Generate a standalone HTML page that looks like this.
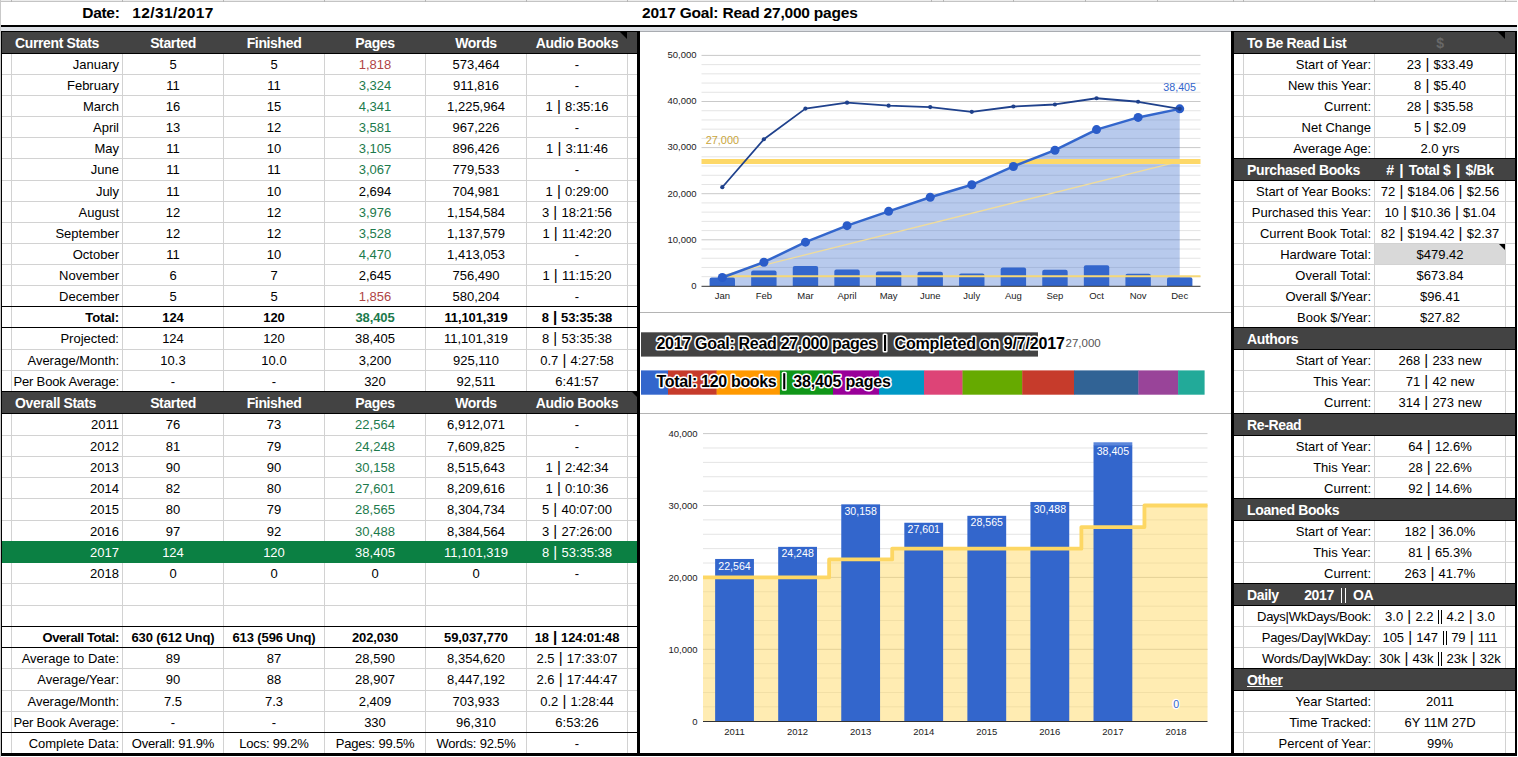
<!DOCTYPE html>
<html><head><meta charset="utf-8"><title>Reading Stats</title>
<style>
html,body{margin:0;padding:0;background:#fff;}
body{width:1518px;height:757px;overflow:hidden;position:relative;font-family:"Liberation Sans",sans-serif;font-size:13px;color:#000;}
#p{position:absolute;left:0;top:0;width:1518px;height:757px;overflow:hidden;}
#p div{position:absolute;box-sizing:border-box;}
.t{white-space:nowrap;overflow:visible;padding-top:1px;}
.l{text-align:left;padding-left:3px;}
.r{text-align:right;padding-right:3px;}
.c{text-align:center;}
.hd{color:#fff;font-weight:bold;font-size:14px;letter-spacing:-0.36px;}
.bb{font-weight:bold;letter-spacing:-0.12px;}
.b16{font-weight:bold;font-size:15.5px;color:#000;}
.bar{font-size:15px;line-height:0;position:relative;top:-0.5px;}
.hd .bar{font-size:15.5px;padding:0 1.6px;}
.dbar{display:inline-block;width:3.9px;height:14.5px;border-left:1.2px solid currentColor;border-right:1.2px solid currentColor;box-sizing:border-box;position:static !important;vertical-align:-3.2px;margin:0 4.6px;line-height:0;}
.hd .dbar{width:4.7px;height:15px;border-left-width:1.6px;border-right-width:1.6px;margin:0 7.2px;vertical-align:-3px;}
.n{letter-spacing:-0.2px;}
.tri{width:0;height:0;border-style:solid;border-width:0 5px 5px 0;border-color:transparent #000 transparent transparent;}
svg{position:absolute;left:0;top:0;}
svg text{font-family:"Liberation Sans",sans-serif;}
</style></head>
<body><div id="p">
<div style="left:0px;top:0px;width:1517px;height:1px;background:#ededed;"></div>
<div style="left:0px;top:1px;width:1517px;height:1px;background:#c4c4c4;"></div>
<div style="left:0px;top:0px;width:1px;height:757px;background:#c9c9c9;"></div>
<div style="left:11px;top:0px;width:1px;height:2px;background:#b5b5b5;"></div>
<div style="left:122px;top:0px;width:1px;height:2px;background:#b5b5b5;"></div>
<div style="left:223px;top:0px;width:1px;height:2px;background:#b5b5b5;"></div>
<div style="left:324px;top:0px;width:1px;height:2px;background:#b5b5b5;"></div>
<div style="left:425px;top:0px;width:1px;height:2px;background:#b5b5b5;"></div>
<div style="left:526px;top:0px;width:1px;height:2px;background:#b5b5b5;"></div>
<div style="left:627px;top:0px;width:1px;height:2px;background:#b5b5b5;"></div>
<div style="left:931px;top:0px;width:1px;height:2px;background:#b5b5b5;"></div>
<div style="left:943px;top:0px;width:1px;height:2px;background:#b5b5b5;"></div>
<div style="left:1013px;top:0px;width:1px;height:2px;background:#b5b5b5;"></div>
<div style="left:1085px;top:0px;width:1px;height:2px;background:#b5b5b5;"></div>
<div style="left:1157px;top:0px;width:1px;height:2px;background:#b5b5b5;"></div>
<div style="left:1233px;top:0px;width:1px;height:2px;background:#b5b5b5;"></div>
<div style="left:1243px;top:0px;width:1px;height:2px;background:#b5b5b5;"></div>
<div style="left:1374px;top:0px;width:1px;height:2px;background:#b5b5b5;"></div>
<div style="left:1505px;top:0px;width:1px;height:2px;background:#b5b5b5;"></div>
<div style="left:1px;top:25px;width:1516px;height:2px;background:#000;"></div>
<div style="left:1px;top:27px;width:1516px;height:4px;background:#dcdfe4;"></div>
<div style="left:640px;top:31px;width:591px;height:1px;background:#a9acb1;"></div>
<div class="t b16 r" style="left:22px;top:1px;width:100.5px;height:23px;line-height:23px;letter-spacing:-0.3px;padding-top:0">Date:</div>
<div class="t b16 c" style="left:122px;top:1px;width:102px;height:23px;line-height:23px;letter-spacing:0.4px;padding-top:0">12/31/2017</div>
<div class="t b16 l" style="left:639px;top:1px;width:300px;height:23px;line-height:23px;letter-spacing:-0.21px;padding-top:0">2017 Goal: Read 27,000 pages</div>
<div style="left:2px;top:53px;width:635px;height:1px;background:#d2d2d2;"></div>
<div style="left:2px;top:74px;width:635px;height:1px;background:#d2d2d2;"></div>
<div style="left:2px;top:95px;width:635px;height:1px;background:#d2d2d2;"></div>
<div style="left:2px;top:116px;width:635px;height:1px;background:#d2d2d2;"></div>
<div style="left:2px;top:137px;width:635px;height:1px;background:#d2d2d2;"></div>
<div style="left:2px;top:158px;width:635px;height:1px;background:#d2d2d2;"></div>
<div style="left:2px;top:180px;width:635px;height:1px;background:#d2d2d2;"></div>
<div style="left:2px;top:201px;width:635px;height:1px;background:#d2d2d2;"></div>
<div style="left:2px;top:222px;width:635px;height:1px;background:#d2d2d2;"></div>
<div style="left:2px;top:243px;width:635px;height:1px;background:#d2d2d2;"></div>
<div style="left:2px;top:264px;width:635px;height:1px;background:#d2d2d2;"></div>
<div style="left:2px;top:285px;width:635px;height:1px;background:#d2d2d2;"></div>
<div style="left:2px;top:306px;width:635px;height:1px;background:#d2d2d2;"></div>
<div style="left:2px;top:327px;width:635px;height:1px;background:#d2d2d2;"></div>
<div style="left:2px;top:349px;width:635px;height:1px;background:#d2d2d2;"></div>
<div style="left:2px;top:370px;width:635px;height:1px;background:#d2d2d2;"></div>
<div style="left:2px;top:391px;width:635px;height:1px;background:#d2d2d2;"></div>
<div style="left:2px;top:413px;width:635px;height:1px;background:#d2d2d2;"></div>
<div style="left:2px;top:435px;width:635px;height:1px;background:#d2d2d2;"></div>
<div style="left:2px;top:456px;width:635px;height:1px;background:#d2d2d2;"></div>
<div style="left:2px;top:477px;width:635px;height:1px;background:#d2d2d2;"></div>
<div style="left:2px;top:498px;width:635px;height:1px;background:#d2d2d2;"></div>
<div style="left:2px;top:520px;width:635px;height:1px;background:#d2d2d2;"></div>
<div style="left:2px;top:541px;width:635px;height:1px;background:#d2d2d2;"></div>
<div style="left:2px;top:562px;width:635px;height:1px;background:#d2d2d2;"></div>
<div style="left:2px;top:583px;width:635px;height:1px;background:#d2d2d2;"></div>
<div style="left:2px;top:605px;width:635px;height:1px;background:#d2d2d2;"></div>
<div style="left:2px;top:626px;width:635px;height:1px;background:#d2d2d2;"></div>
<div style="left:2px;top:647px;width:635px;height:1px;background:#d2d2d2;"></div>
<div style="left:2px;top:668px;width:635px;height:1px;background:#d2d2d2;"></div>
<div style="left:2px;top:690px;width:635px;height:1px;background:#d2d2d2;"></div>
<div style="left:2px;top:711px;width:635px;height:1px;background:#d2d2d2;"></div>
<div style="left:2px;top:732px;width:635px;height:1px;background:#d2d2d2;"></div>
<div style="left:11px;top:32px;width:1px;height:721px;background:#d2d2d2;"></div>
<div style="left:122px;top:32px;width:1px;height:721px;background:#d2d2d2;"></div>
<div style="left:223px;top:32px;width:1px;height:721px;background:#d2d2d2;"></div>
<div style="left:324px;top:32px;width:1px;height:721px;background:#d2d2d2;"></div>
<div style="left:425px;top:32px;width:1px;height:721px;background:#d2d2d2;"></div>
<div style="left:526px;top:32px;width:1px;height:721px;background:#d2d2d2;"></div>
<div style="left:627px;top:32px;width:1px;height:721px;background:#d2d2d2;"></div>
<div style="left:2px;top:31px;width:635px;height:1px;background:#000;"></div>
<div style="left:2px;top:32px;width:635px;height:21px;background:#434343;"></div>
<div style="left:2px;top:53px;width:635px;height:1px;background:#000;"></div>
<div class="tri" style="left:620px;top:32px;border-width:0 7px 7px 0"></div>
<div class="t hd l" style="left:12px;top:32px;width:110px;height:21px;line-height:21px;">Current Stats</div>
<div class="t hd c" style="left:123px;top:32px;width:100px;height:21px;line-height:21px;">Started</div>
<div class="t hd c" style="left:224px;top:32px;width:100px;height:21px;line-height:21px;">Finished</div>
<div class="t hd c" style="left:325px;top:32px;width:100px;height:21px;line-height:21px;">Pages</div>
<div class="t hd c" style="left:426px;top:32px;width:100px;height:21px;line-height:21px;">Words</div>
<div class="t hd c" style="left:527px;top:32px;width:100px;height:21px;line-height:21px;">Audio Books</div>
<div class="t r" style="left:12px;top:54px;width:110px;height:20px;line-height:20px;">January</div>
<div class="t c" style="left:123px;top:54px;width:100px;height:20px;line-height:20px;">5</div>
<div class="t c" style="left:224px;top:54px;width:100px;height:20px;line-height:20px;">5</div>
<div class="t c" style="left:325px;top:54px;width:100px;height:20px;line-height:20px;color:#b04545;">1,818</div>
<div class="t c" style="left:426px;top:54px;width:100px;height:20px;line-height:20px;">573,464</div>
<div class="t c" style="left:527px;top:54px;width:100px;height:20px;line-height:20px;">-</div>
<div class="t r" style="left:12px;top:75px;width:110px;height:20px;line-height:20px;">February</div>
<div class="t c" style="left:123px;top:75px;width:100px;height:20px;line-height:20px;">11</div>
<div class="t c" style="left:224px;top:75px;width:100px;height:20px;line-height:20px;">11</div>
<div class="t c" style="left:325px;top:75px;width:100px;height:20px;line-height:20px;color:#1c7a4c;">3,324</div>
<div class="t c" style="left:426px;top:75px;width:100px;height:20px;line-height:20px;">911,816</div>
<div class="t c" style="left:527px;top:75px;width:100px;height:20px;line-height:20px;">-</div>
<div class="t r" style="left:12px;top:96px;width:110px;height:20px;line-height:20px;">March</div>
<div class="t c" style="left:123px;top:96px;width:100px;height:20px;line-height:20px;">16</div>
<div class="t c" style="left:224px;top:96px;width:100px;height:20px;line-height:20px;">15</div>
<div class="t c" style="left:325px;top:96px;width:100px;height:20px;line-height:20px;color:#1c7a4c;">4,341</div>
<div class="t c" style="left:426px;top:96px;width:100px;height:20px;line-height:20px;">1,225,964</div>
<div class="t c" style="left:527px;top:96px;width:100px;height:20px;line-height:20px;">1<span class="bar"> | </span>8:35:16</div>
<div class="t r" style="left:12px;top:117px;width:110px;height:20px;line-height:20px;">April</div>
<div class="t c" style="left:123px;top:117px;width:100px;height:20px;line-height:20px;">13</div>
<div class="t c" style="left:224px;top:117px;width:100px;height:20px;line-height:20px;">12</div>
<div class="t c" style="left:325px;top:117px;width:100px;height:20px;line-height:20px;color:#1c7a4c;">3,581</div>
<div class="t c" style="left:426px;top:117px;width:100px;height:20px;line-height:20px;">967,226</div>
<div class="t c" style="left:527px;top:117px;width:100px;height:20px;line-height:20px;">-</div>
<div class="t r" style="left:12px;top:138px;width:110px;height:20px;line-height:20px;">May</div>
<div class="t c" style="left:123px;top:138px;width:100px;height:20px;line-height:20px;">11</div>
<div class="t c" style="left:224px;top:138px;width:100px;height:20px;line-height:20px;">10</div>
<div class="t c" style="left:325px;top:138px;width:100px;height:20px;line-height:20px;color:#1c7a4c;">3,105</div>
<div class="t c" style="left:426px;top:138px;width:100px;height:20px;line-height:20px;">896,426</div>
<div class="t c" style="left:527px;top:138px;width:100px;height:20px;line-height:20px;">1<span class="bar"> | </span>3:11:46</div>
<div class="t r" style="left:12px;top:159px;width:110px;height:21px;line-height:21px;padding-top:0;">June</div>
<div class="t c" style="left:123px;top:159px;width:100px;height:21px;line-height:21px;padding-top:0;">11</div>
<div class="t c" style="left:224px;top:159px;width:100px;height:21px;line-height:21px;padding-top:0;">11</div>
<div class="t c" style="left:325px;top:159px;width:100px;height:21px;line-height:21px;color:#1c7a4c;padding-top:0;">3,067</div>
<div class="t c" style="left:426px;top:159px;width:100px;height:21px;line-height:21px;padding-top:0;">779,533</div>
<div class="t c" style="left:527px;top:159px;width:100px;height:21px;line-height:21px;padding-top:0;">-</div>
<div class="t r" style="left:12px;top:181px;width:110px;height:20px;line-height:20px;">July</div>
<div class="t c" style="left:123px;top:181px;width:100px;height:20px;line-height:20px;">11</div>
<div class="t c" style="left:224px;top:181px;width:100px;height:20px;line-height:20px;">10</div>
<div class="t c" style="left:325px;top:181px;width:100px;height:20px;line-height:20px;">2,694</div>
<div class="t c" style="left:426px;top:181px;width:100px;height:20px;line-height:20px;">704,981</div>
<div class="t c" style="left:527px;top:181px;width:100px;height:20px;line-height:20px;">1<span class="bar"> | </span>0:29:00</div>
<div class="t r" style="left:12px;top:202px;width:110px;height:20px;line-height:20px;">August</div>
<div class="t c" style="left:123px;top:202px;width:100px;height:20px;line-height:20px;">12</div>
<div class="t c" style="left:224px;top:202px;width:100px;height:20px;line-height:20px;">12</div>
<div class="t c" style="left:325px;top:202px;width:100px;height:20px;line-height:20px;color:#1c7a4c;">3,976</div>
<div class="t c" style="left:426px;top:202px;width:100px;height:20px;line-height:20px;">1,154,584</div>
<div class="t c" style="left:527px;top:202px;width:100px;height:20px;line-height:20px;">3<span class="bar"> | </span>18:21:56</div>
<div class="t r" style="left:12px;top:223px;width:110px;height:20px;line-height:20px;">September</div>
<div class="t c" style="left:123px;top:223px;width:100px;height:20px;line-height:20px;">12</div>
<div class="t c" style="left:224px;top:223px;width:100px;height:20px;line-height:20px;">12</div>
<div class="t c" style="left:325px;top:223px;width:100px;height:20px;line-height:20px;color:#1c7a4c;">3,528</div>
<div class="t c" style="left:426px;top:223px;width:100px;height:20px;line-height:20px;">1,137,579</div>
<div class="t c" style="left:527px;top:223px;width:100px;height:20px;line-height:20px;">1<span class="bar"> | </span>11:42:20</div>
<div class="t r" style="left:12px;top:244px;width:110px;height:20px;line-height:20px;">October</div>
<div class="t c" style="left:123px;top:244px;width:100px;height:20px;line-height:20px;">11</div>
<div class="t c" style="left:224px;top:244px;width:100px;height:20px;line-height:20px;">10</div>
<div class="t c" style="left:325px;top:244px;width:100px;height:20px;line-height:20px;color:#1c7a4c;">4,470</div>
<div class="t c" style="left:426px;top:244px;width:100px;height:20px;line-height:20px;">1,413,053</div>
<div class="t c" style="left:527px;top:244px;width:100px;height:20px;line-height:20px;">-</div>
<div class="t r" style="left:12px;top:265px;width:110px;height:20px;line-height:20px;">November</div>
<div class="t c" style="left:123px;top:265px;width:100px;height:20px;line-height:20px;">6</div>
<div class="t c" style="left:224px;top:265px;width:100px;height:20px;line-height:20px;">7</div>
<div class="t c" style="left:325px;top:265px;width:100px;height:20px;line-height:20px;">2,645</div>
<div class="t c" style="left:426px;top:265px;width:100px;height:20px;line-height:20px;">756,490</div>
<div class="t c" style="left:527px;top:265px;width:100px;height:20px;line-height:20px;">1<span class="bar"> | </span>11:15:20</div>
<div class="t r" style="left:12px;top:286px;width:110px;height:20px;line-height:20px;">December</div>
<div class="t c" style="left:123px;top:286px;width:100px;height:20px;line-height:20px;">5</div>
<div class="t c" style="left:224px;top:286px;width:100px;height:20px;line-height:20px;">5</div>
<div class="t c" style="left:325px;top:286px;width:100px;height:20px;line-height:20px;color:#b04545;">1,856</div>
<div class="t c" style="left:426px;top:286px;width:100px;height:20px;line-height:20px;">580,204</div>
<div class="t c" style="left:527px;top:286px;width:100px;height:20px;line-height:20px;">-</div>
<div style="left:2px;top:306px;width:635px;height:1px;background:#000;"></div>
<div style="left:2px;top:327px;width:635px;height:1px;background:#000;"></div>
<div class="t r bb" style="left:12px;top:307px;width:110px;height:20px;line-height:20px;">Total:</div>
<div class="t c bb" style="left:123px;top:307px;width:100px;height:20px;line-height:20px;">124</div>
<div class="t c bb" style="left:224px;top:307px;width:100px;height:20px;line-height:20px;">120</div>
<div class="t c bb" style="left:325px;top:307px;width:100px;height:20px;line-height:20px;color:#1c7a4c;">38,405</div>
<div class="t c bb" style="left:426px;top:307px;width:100px;height:20px;line-height:20px;">11,101,319</div>
<div class="t c bb" style="left:527px;top:307px;width:100px;height:20px;line-height:20px;">8<span class="bar"> | </span>53:35:38</div>
<div class="t r" style="left:12px;top:328px;width:110px;height:21px;line-height:21px;padding-top:0;">Projected:</div>
<div class="t c" style="left:123px;top:328px;width:100px;height:21px;line-height:21px;padding-top:0;">124</div>
<div class="t c" style="left:224px;top:328px;width:100px;height:21px;line-height:21px;padding-top:0;">120</div>
<div class="t c" style="left:325px;top:328px;width:100px;height:21px;line-height:21px;padding-top:0;">38,405</div>
<div class="t c" style="left:426px;top:328px;width:100px;height:21px;line-height:21px;padding-top:0;">11,101,319</div>
<div class="t c" style="left:527px;top:328px;width:100px;height:21px;line-height:21px;padding-top:0;">8<span class="bar"> | </span>53:35:38</div>
<div class="t r" style="left:12px;top:350px;width:110px;height:20px;line-height:20px;">Average/Month:</div>
<div class="t c" style="left:123px;top:350px;width:100px;height:20px;line-height:20px;">10.3</div>
<div class="t c" style="left:224px;top:350px;width:100px;height:20px;line-height:20px;">10.0</div>
<div class="t c" style="left:325px;top:350px;width:100px;height:20px;line-height:20px;">3,200</div>
<div class="t c" style="left:426px;top:350px;width:100px;height:20px;line-height:20px;">925,110</div>
<div class="t c" style="left:527px;top:350px;width:100px;height:20px;line-height:20px;">0.7<span class="bar"> | </span>4:27:58</div>
<div class="t r" style="left:12px;top:371px;width:110px;height:20px;line-height:20px;"><span style="letter-spacing:-0.15px">Per Book Average:</span></div>
<div class="t c" style="left:123px;top:371px;width:100px;height:20px;line-height:20px;">-</div>
<div class="t c" style="left:224px;top:371px;width:100px;height:20px;line-height:20px;">-</div>
<div class="t c" style="left:325px;top:371px;width:100px;height:20px;line-height:20px;">320</div>
<div class="t c" style="left:426px;top:371px;width:100px;height:20px;line-height:20px;">92,511</div>
<div class="t c" style="left:527px;top:371px;width:100px;height:20px;line-height:20px;">6:41:57</div>
<div style="left:2px;top:391px;width:635px;height:1px;background:#000;"></div>
<div style="left:2px;top:392px;width:635px;height:21px;background:#434343;"></div>
<div style="left:2px;top:413px;width:635px;height:1px;background:#000;"></div>
<div class="tri" style="left:632px;top:392px;border-width:0 5px 5px 0"></div>
<div class="t hd l" style="left:12px;top:392px;width:110px;height:21px;line-height:21px;">Overall Stats</div>
<div class="t hd c" style="left:123px;top:392px;width:100px;height:21px;line-height:21px;">Started</div>
<div class="t hd c" style="left:224px;top:392px;width:100px;height:21px;line-height:21px;">Finished</div>
<div class="t hd c" style="left:325px;top:392px;width:100px;height:21px;line-height:21px;">Pages</div>
<div class="t hd c" style="left:426px;top:392px;width:100px;height:21px;line-height:21px;">Words</div>
<div class="t hd c" style="left:527px;top:392px;width:100px;height:21px;line-height:21px;">Audio Books</div>
<div class="t r" style="left:12px;top:414px;width:110px;height:21px;line-height:21px;padding-top:0;">2011</div>
<div class="t c" style="left:123px;top:414px;width:100px;height:21px;line-height:21px;padding-top:0;">76</div>
<div class="t c" style="left:224px;top:414px;width:100px;height:21px;line-height:21px;padding-top:0;">73</div>
<div class="t c" style="left:325px;top:414px;width:100px;height:21px;line-height:21px;color:#1c7a4c;padding-top:0;">22,564</div>
<div class="t c" style="left:426px;top:414px;width:100px;height:21px;line-height:21px;padding-top:0;">6,912,071</div>
<div class="t c" style="left:527px;top:414px;width:100px;height:21px;line-height:21px;padding-top:0;">-</div>
<div class="t r" style="left:12px;top:436px;width:110px;height:20px;line-height:20px;">2012</div>
<div class="t c" style="left:123px;top:436px;width:100px;height:20px;line-height:20px;">81</div>
<div class="t c" style="left:224px;top:436px;width:100px;height:20px;line-height:20px;">79</div>
<div class="t c" style="left:325px;top:436px;width:100px;height:20px;line-height:20px;color:#1c7a4c;">24,248</div>
<div class="t c" style="left:426px;top:436px;width:100px;height:20px;line-height:20px;">7,609,825</div>
<div class="t c" style="left:527px;top:436px;width:100px;height:20px;line-height:20px;">-</div>
<div class="t r" style="left:12px;top:457px;width:110px;height:20px;line-height:20px;">2013</div>
<div class="t c" style="left:123px;top:457px;width:100px;height:20px;line-height:20px;">90</div>
<div class="t c" style="left:224px;top:457px;width:100px;height:20px;line-height:20px;">90</div>
<div class="t c" style="left:325px;top:457px;width:100px;height:20px;line-height:20px;color:#1c7a4c;">30,158</div>
<div class="t c" style="left:426px;top:457px;width:100px;height:20px;line-height:20px;">8,515,643</div>
<div class="t c" style="left:527px;top:457px;width:100px;height:20px;line-height:20px;">1<span class="bar"> | </span>2:42:34</div>
<div class="t r" style="left:12px;top:478px;width:110px;height:20px;line-height:20px;">2014</div>
<div class="t c" style="left:123px;top:478px;width:100px;height:20px;line-height:20px;">82</div>
<div class="t c" style="left:224px;top:478px;width:100px;height:20px;line-height:20px;">80</div>
<div class="t c" style="left:325px;top:478px;width:100px;height:20px;line-height:20px;color:#1c7a4c;">27,601</div>
<div class="t c" style="left:426px;top:478px;width:100px;height:20px;line-height:20px;">8,209,616</div>
<div class="t c" style="left:527px;top:478px;width:100px;height:20px;line-height:20px;">1<span class="bar"> | </span>0:10:36</div>
<div class="t r" style="left:12px;top:499px;width:110px;height:21px;line-height:21px;padding-top:0;">2015</div>
<div class="t c" style="left:123px;top:499px;width:100px;height:21px;line-height:21px;padding-top:0;">80</div>
<div class="t c" style="left:224px;top:499px;width:100px;height:21px;line-height:21px;padding-top:0;">79</div>
<div class="t c" style="left:325px;top:499px;width:100px;height:21px;line-height:21px;color:#1c7a4c;padding-top:0;">28,565</div>
<div class="t c" style="left:426px;top:499px;width:100px;height:21px;line-height:21px;padding-top:0;">8,304,734</div>
<div class="t c" style="left:527px;top:499px;width:100px;height:21px;line-height:21px;padding-top:0;">5<span class="bar"> | </span>40:07:00</div>
<div class="t r" style="left:12px;top:521px;width:110px;height:20px;line-height:20px;">2016</div>
<div class="t c" style="left:123px;top:521px;width:100px;height:20px;line-height:20px;">97</div>
<div class="t c" style="left:224px;top:521px;width:100px;height:20px;line-height:20px;">92</div>
<div class="t c" style="left:325px;top:521px;width:100px;height:20px;line-height:20px;color:#1c7a4c;">30,488</div>
<div class="t c" style="left:426px;top:521px;width:100px;height:20px;line-height:20px;">8,384,564</div>
<div class="t c" style="left:527px;top:521px;width:100px;height:20px;line-height:20px;">3<span class="bar"> | </span>27:26:00</div>
<div style="left:2px;top:541px;width:635px;height:22px;background:#0b8043;"></div>
<div class="t r" style="left:12px;top:542px;width:110px;height:20px;line-height:20px;color:#fff;">2017</div>
<div class="t c" style="left:123px;top:542px;width:100px;height:20px;line-height:20px;color:#fff;">124</div>
<div class="t c" style="left:224px;top:542px;width:100px;height:20px;line-height:20px;color:#fff;">120</div>
<div class="t c" style="left:325px;top:542px;width:100px;height:20px;line-height:20px;color:#fff;">38,405</div>
<div class="t c" style="left:426px;top:542px;width:100px;height:20px;line-height:20px;color:#fff;">11,101,319</div>
<div class="t c" style="left:527px;top:542px;width:100px;height:20px;line-height:20px;color:#fff;">8<span class="bar"> | </span>53:35:38</div>
<div class="t r" style="left:12px;top:563px;width:110px;height:20px;line-height:20px;">2018</div>
<div class="t c" style="left:123px;top:563px;width:100px;height:20px;line-height:20px;">0</div>
<div class="t c" style="left:224px;top:563px;width:100px;height:20px;line-height:20px;">0</div>
<div class="t c" style="left:325px;top:563px;width:100px;height:20px;line-height:20px;">0</div>
<div class="t c" style="left:426px;top:563px;width:100px;height:20px;line-height:20px;">0</div>
<div class="t c" style="left:527px;top:563px;width:100px;height:20px;line-height:20px;">-</div>
<div style="left:2px;top:626px;width:635px;height:1px;background:#000;"></div>
<div style="left:2px;top:647px;width:635px;height:1px;background:#000;"></div>
<div class="t r bb" style="left:12px;top:627px;width:110px;height:20px;line-height:20px;"><span style="letter-spacing:-0.4px">Overall Total:</span></div>
<div class="t c bb" style="left:123px;top:627px;width:100px;height:20px;line-height:20px;">630 (612 Unq)</div>
<div class="t c bb" style="left:224px;top:627px;width:100px;height:20px;line-height:20px;">613 (596 Unq)</div>
<div class="t c bb" style="left:325px;top:627px;width:100px;height:20px;line-height:20px;">202,030</div>
<div class="t c bb" style="left:426px;top:627px;width:100px;height:20px;line-height:20px;">59,037,770</div>
<div class="t c bb" style="left:527px;top:627px;width:100px;height:20px;line-height:20px;">18<span class="bar"> | </span>124:01:48</div>
<div class="t r" style="left:12px;top:648px;width:110px;height:20px;line-height:20px;">Average to Date:</div>
<div class="t c" style="left:123px;top:648px;width:100px;height:20px;line-height:20px;">89</div>
<div class="t c" style="left:224px;top:648px;width:100px;height:20px;line-height:20px;">87</div>
<div class="t c" style="left:325px;top:648px;width:100px;height:20px;line-height:20px;">28,590</div>
<div class="t c" style="left:426px;top:648px;width:100px;height:20px;line-height:20px;">8,354,620</div>
<div class="t c" style="left:527px;top:648px;width:100px;height:20px;line-height:20px;">2.5<span class="bar"> | </span>17:33:07</div>
<div class="t r" style="left:12px;top:669px;width:110px;height:21px;line-height:21px;padding-top:0;">Average/Year:</div>
<div class="t c" style="left:123px;top:669px;width:100px;height:21px;line-height:21px;padding-top:0;">90</div>
<div class="t c" style="left:224px;top:669px;width:100px;height:21px;line-height:21px;padding-top:0;">88</div>
<div class="t c" style="left:325px;top:669px;width:100px;height:21px;line-height:21px;padding-top:0;">28,907</div>
<div class="t c" style="left:426px;top:669px;width:100px;height:21px;line-height:21px;padding-top:0;">8,447,192</div>
<div class="t c" style="left:527px;top:669px;width:100px;height:21px;line-height:21px;padding-top:0;">2.6<span class="bar"> | </span>17:44:47</div>
<div class="t r" style="left:12px;top:691px;width:110px;height:20px;line-height:20px;">Average/Month:</div>
<div class="t c" style="left:123px;top:691px;width:100px;height:20px;line-height:20px;">7.5</div>
<div class="t c" style="left:224px;top:691px;width:100px;height:20px;line-height:20px;">7.3</div>
<div class="t c" style="left:325px;top:691px;width:100px;height:20px;line-height:20px;">2,409</div>
<div class="t c" style="left:426px;top:691px;width:100px;height:20px;line-height:20px;">703,933</div>
<div class="t c" style="left:527px;top:691px;width:100px;height:20px;line-height:20px;">0.2<span class="bar"> | </span>1:28:44</div>
<div class="t r" style="left:12px;top:712px;width:110px;height:20px;line-height:20px;"><span style="letter-spacing:-0.15px">Per Book Average:</span></div>
<div class="t c" style="left:123px;top:712px;width:100px;height:20px;line-height:20px;">-</div>
<div class="t c" style="left:224px;top:712px;width:100px;height:20px;line-height:20px;">-</div>
<div class="t c" style="left:325px;top:712px;width:100px;height:20px;line-height:20px;">330</div>
<div class="t c" style="left:426px;top:712px;width:100px;height:20px;line-height:20px;">96,310</div>
<div class="t c" style="left:527px;top:712px;width:100px;height:20px;line-height:20px;">6:53:26</div>
<div class="t r" style="left:12px;top:733px;width:110px;height:20px;line-height:20px;">Complete Data:</div>
<div class="t c" style="left:123px;top:733px;width:100px;height:20px;line-height:20px;"><span class="n">Overall: 91.9%</span></div>
<div class="t c" style="left:224px;top:733px;width:100px;height:20px;line-height:20px;"><span class="n">Locs: 99.2%</span></div>
<div class="t c" style="left:325px;top:733px;width:100px;height:20px;line-height:20px;"><span class="n">Pages: 99.5%</span></div>
<div class="t c" style="left:426px;top:733px;width:100px;height:20px;line-height:20px;"><span class="n">Words: 92.5%</span></div>
<div class="t c" style="left:527px;top:733px;width:100px;height:20px;line-height:20px;">-</div>
<div style="left:2px;top:732px;width:635px;height:1px;background:#000;"></div>
<div style="left:1234px;top:53px;width:281px;height:1px;background:#d2d2d2;"></div>
<div style="left:1234px;top:74px;width:281px;height:1px;background:#d2d2d2;"></div>
<div style="left:1234px;top:95px;width:281px;height:1px;background:#d2d2d2;"></div>
<div style="left:1234px;top:116px;width:281px;height:1px;background:#d2d2d2;"></div>
<div style="left:1234px;top:137px;width:281px;height:1px;background:#d2d2d2;"></div>
<div style="left:1234px;top:158px;width:281px;height:1px;background:#d2d2d2;"></div>
<div style="left:1234px;top:180px;width:281px;height:1px;background:#d2d2d2;"></div>
<div style="left:1234px;top:201px;width:281px;height:1px;background:#d2d2d2;"></div>
<div style="left:1234px;top:222px;width:281px;height:1px;background:#d2d2d2;"></div>
<div style="left:1234px;top:243px;width:281px;height:1px;background:#d2d2d2;"></div>
<div style="left:1234px;top:264px;width:281px;height:1px;background:#d2d2d2;"></div>
<div style="left:1234px;top:285px;width:281px;height:1px;background:#d2d2d2;"></div>
<div style="left:1234px;top:306px;width:281px;height:1px;background:#d2d2d2;"></div>
<div style="left:1234px;top:327px;width:281px;height:1px;background:#d2d2d2;"></div>
<div style="left:1234px;top:349px;width:281px;height:1px;background:#d2d2d2;"></div>
<div style="left:1234px;top:370px;width:281px;height:1px;background:#d2d2d2;"></div>
<div style="left:1234px;top:391px;width:281px;height:1px;background:#d2d2d2;"></div>
<div style="left:1234px;top:413px;width:281px;height:1px;background:#d2d2d2;"></div>
<div style="left:1234px;top:435px;width:281px;height:1px;background:#d2d2d2;"></div>
<div style="left:1234px;top:456px;width:281px;height:1px;background:#d2d2d2;"></div>
<div style="left:1234px;top:477px;width:281px;height:1px;background:#d2d2d2;"></div>
<div style="left:1234px;top:498px;width:281px;height:1px;background:#d2d2d2;"></div>
<div style="left:1234px;top:520px;width:281px;height:1px;background:#d2d2d2;"></div>
<div style="left:1234px;top:541px;width:281px;height:1px;background:#d2d2d2;"></div>
<div style="left:1234px;top:562px;width:281px;height:1px;background:#d2d2d2;"></div>
<div style="left:1234px;top:583px;width:281px;height:1px;background:#d2d2d2;"></div>
<div style="left:1234px;top:605px;width:281px;height:1px;background:#d2d2d2;"></div>
<div style="left:1234px;top:626px;width:281px;height:1px;background:#d2d2d2;"></div>
<div style="left:1234px;top:647px;width:281px;height:1px;background:#d2d2d2;"></div>
<div style="left:1234px;top:668px;width:281px;height:1px;background:#d2d2d2;"></div>
<div style="left:1234px;top:690px;width:281px;height:1px;background:#d2d2d2;"></div>
<div style="left:1234px;top:711px;width:281px;height:1px;background:#d2d2d2;"></div>
<div style="left:1234px;top:732px;width:281px;height:1px;background:#d2d2d2;"></div>
<div style="left:1243px;top:32px;width:1px;height:721px;background:#d2d2d2;"></div>
<div style="left:1374px;top:32px;width:1px;height:721px;background:#d2d2d2;"></div>
<div style="left:1505px;top:32px;width:1px;height:721px;background:#d2d2d2;"></div>
<div style="left:1234px;top:31px;width:281px;height:1px;background:#000;"></div>
<div style="left:1234px;top:32px;width:281px;height:21px;background:#434343;"></div>
<div style="left:1234px;top:53px;width:281px;height:1px;background:#000;"></div>
<div class="t hd l" style="left:1244px;top:32px;width:260px;height:21px;line-height:21px;">To Be Read List</div>
<div class="t hd c" style="left:1375px;top:32px;width:130px;height:21px;line-height:21px;"><span style="color:#686868">$</span></div>
<div class="tri" style="left:1498px;top:32px;border-width:0 7px 7px 0"></div>
<div class="t r" style="left:1244px;top:54px;width:130px;height:20px;line-height:20px;">Start of Year:</div>
<div class="t c" style="left:1365px;top:54px;width:150px;height:20px;line-height:20px;">23<span class="bar"> | </span>$33.49</div>
<div class="t r" style="left:1244px;top:75px;width:130px;height:20px;line-height:20px;">New this Year:</div>
<div class="t c" style="left:1365px;top:75px;width:150px;height:20px;line-height:20px;">8<span class="bar"> | </span>$5.40</div>
<div class="t r" style="left:1244px;top:96px;width:130px;height:20px;line-height:20px;">Current:</div>
<div class="t c" style="left:1365px;top:96px;width:150px;height:20px;line-height:20px;">28<span class="bar"> | </span>$35.58</div>
<div class="t r" style="left:1244px;top:117px;width:130px;height:20px;line-height:20px;">Net Change</div>
<div class="t c" style="left:1365px;top:117px;width:150px;height:20px;line-height:20px;">5<span class="bar"> | </span>$2.09</div>
<div class="t r" style="left:1244px;top:138px;width:130px;height:20px;line-height:20px;">Average Age:</div>
<div class="t c" style="left:1365px;top:138px;width:150px;height:20px;line-height:20px;">2.0 yrs</div>
<div style="left:1234px;top:158px;width:281px;height:1px;background:#000;"></div>
<div style="left:1234px;top:159px;width:281px;height:21px;background:#434343;"></div>
<div style="left:1234px;top:180px;width:281px;height:1px;background:#000;"></div>
<div class="t hd l" style="left:1244px;top:159px;width:260px;height:21px;line-height:21px;">Purchased Books</div>
<div class="t hd c" style="left:1375px;top:159px;width:130px;height:21px;line-height:21px;">#<span class="bar"> | </span>Total $<span class="bar"> | </span>$/Bk</div>
<div class="t r" style="left:1244px;top:181px;width:130px;height:20px;line-height:20px;">Start of Year Books:</div>
<div class="t c" style="left:1365px;top:181px;width:150px;height:20px;line-height:20px;">72<span class="bar"> | </span>$184.06<span class="bar"> | </span>$2.56</div>
<div class="t r" style="left:1244px;top:202px;width:130px;height:20px;line-height:20px;">Purchased this Year:</div>
<div class="t c" style="left:1365px;top:202px;width:150px;height:20px;line-height:20px;">10<span class="bar"> | </span>$10.36<span class="bar"> | </span>$1.04</div>
<div class="t r" style="left:1244px;top:223px;width:130px;height:20px;line-height:20px;">Current Book Total:</div>
<div class="t c" style="left:1365px;top:223px;width:150px;height:20px;line-height:20px;">82<span class="bar"> | </span>$194.42<span class="bar"> | </span>$2.37</div>
<div style="left:1375px;top:244px;width:130px;height:20px;background:#d9d9d9;"></div>
<div class="tri" style="left:1499px;top:244px;border-width:0 6px 6px 0"></div>
<div class="t r" style="left:1244px;top:244px;width:130px;height:20px;line-height:20px;">Hardware Total:</div>
<div class="t c" style="left:1365px;top:244px;width:150px;height:20px;line-height:20px;">$479.42</div>
<div class="t r" style="left:1244px;top:265px;width:130px;height:20px;line-height:20px;">Overall Total:</div>
<div class="t c" style="left:1365px;top:265px;width:150px;height:20px;line-height:20px;">$673.84</div>
<div class="t r" style="left:1244px;top:286px;width:130px;height:20px;line-height:20px;">Overall $/Year:</div>
<div class="t c" style="left:1365px;top:286px;width:150px;height:20px;line-height:20px;">$96.41</div>
<div class="t r" style="left:1244px;top:307px;width:130px;height:20px;line-height:20px;">Book $/Year:</div>
<div class="t c" style="left:1365px;top:307px;width:150px;height:20px;line-height:20px;">$27.82</div>
<div style="left:1234px;top:327px;width:281px;height:1px;background:#000;"></div>
<div style="left:1234px;top:328px;width:281px;height:21px;background:#434343;"></div>
<div style="left:1234px;top:349px;width:281px;height:1px;background:#000;"></div>
<div class="t hd l" style="left:1244px;top:328px;width:260px;height:21px;line-height:21px;">Authors</div>
<div class="t r" style="left:1244px;top:350px;width:130px;height:20px;line-height:20px;">Start of Year:</div>
<div class="t c" style="left:1365px;top:350px;width:150px;height:20px;line-height:20px;">268<span class="bar"> | </span>233 new</div>
<div class="t r" style="left:1244px;top:371px;width:130px;height:20px;line-height:20px;">This Year:</div>
<div class="t c" style="left:1365px;top:371px;width:150px;height:20px;line-height:20px;">71<span class="bar"> | </span>42 new</div>
<div class="t r" style="left:1244px;top:392px;width:130px;height:21px;line-height:21px;padding-top:0;">Current:</div>
<div class="t c" style="left:1365px;top:392px;width:150px;height:21px;line-height:21px;padding-top:0;">314<span class="bar"> | </span>273 new</div>
<div style="left:1234px;top:413px;width:281px;height:1px;background:#000;"></div>
<div style="left:1234px;top:414px;width:281px;height:21px;background:#434343;"></div>
<div style="left:1234px;top:435px;width:281px;height:1px;background:#000;"></div>
<div class="t hd l" style="left:1244px;top:414px;width:260px;height:21px;line-height:21px;">Re-Read</div>
<div class="t r" style="left:1244px;top:436px;width:130px;height:20px;line-height:20px;">Start of Year:</div>
<div class="t c" style="left:1365px;top:436px;width:150px;height:20px;line-height:20px;">64<span class="bar"> | </span>12.6%</div>
<div class="t r" style="left:1244px;top:457px;width:130px;height:20px;line-height:20px;">This Year:</div>
<div class="t c" style="left:1365px;top:457px;width:150px;height:20px;line-height:20px;">28<span class="bar"> | </span>22.6%</div>
<div class="t r" style="left:1244px;top:478px;width:130px;height:20px;line-height:20px;">Current:</div>
<div class="t c" style="left:1365px;top:478px;width:150px;height:20px;line-height:20px;">92<span class="bar"> | </span>14.6%</div>
<div style="left:1234px;top:498px;width:281px;height:1px;background:#000;"></div>
<div style="left:1234px;top:499px;width:281px;height:21px;background:#434343;"></div>
<div style="left:1234px;top:520px;width:281px;height:1px;background:#000;"></div>
<div class="t hd l" style="left:1244px;top:499px;width:260px;height:21px;line-height:21px;">Loaned Books</div>
<div class="t r" style="left:1244px;top:521px;width:130px;height:20px;line-height:20px;">Start of Year:</div>
<div class="t c" style="left:1365px;top:521px;width:150px;height:20px;line-height:20px;">182<span class="bar"> | </span>36.0%</div>
<div class="t r" style="left:1244px;top:542px;width:130px;height:20px;line-height:20px;">This Year:</div>
<div class="t c" style="left:1365px;top:542px;width:150px;height:20px;line-height:20px;">81<span class="bar"> | </span>65.3%</div>
<div class="t r" style="left:1244px;top:563px;width:130px;height:20px;line-height:20px;">Current:</div>
<div class="t c" style="left:1365px;top:563px;width:150px;height:20px;line-height:20px;">263<span class="bar"> | </span>41.7%</div>
<div style="left:1234px;top:583px;width:281px;height:1px;background:#000;"></div>
<div style="left:1234px;top:584px;width:281px;height:21px;background:#434343;"></div>
<div style="left:1234px;top:605px;width:281px;height:1px;background:#000;"></div>
<div class="t hd l" style="left:1244px;top:584px;width:260px;height:21px;line-height:21px;">Daily<span style="display:inline-block;width:25.5px;position:static"></span>2017<span class="dbar"></span>OA</div>
<div class="t r" style="left:1244px;top:606px;width:130px;height:20px;line-height:20px;"><span style="letter-spacing:-0.25px">Days|WkDays/Book:</span></div>
<div class="t c" style="left:1365px;top:606px;width:150px;height:20px;line-height:20px;">3.0<span class="bar"> | </span>2.2<span class="dbar"></span>4.2<span class="bar"> | </span>3.0</div>
<div class="t r" style="left:1244px;top:627px;width:130px;height:20px;line-height:20px;"><span style="letter-spacing:-0.2px">Pages/Day|WkDay:</span></div>
<div class="t c" style="left:1365px;top:627px;width:150px;height:20px;line-height:20px;">105<span class="bar"> | </span>147<span class="dbar"></span>79<span class="bar"> | </span>111</div>
<div class="t r" style="left:1244px;top:648px;width:130px;height:20px;line-height:20px;"><span style="letter-spacing:-0.25px">Words/Day|WkDay:</span></div>
<div class="t c" style="left:1365px;top:648px;width:150px;height:20px;line-height:20px;">30k<span class="bar"> | </span>43k<span class="dbar"></span>23k<span class="bar"> | </span>32k</div>
<div style="left:1234px;top:668px;width:281px;height:1px;background:#000;"></div>
<div style="left:1234px;top:669px;width:281px;height:21px;background:#434343;"></div>
<div style="left:1234px;top:690px;width:281px;height:1px;background:#000;"></div>
<div class="t hd l" style="left:1244px;top:669px;width:260px;height:21px;line-height:21px;"><u>Other</u></div>
<div class="t r" style="left:1244px;top:691px;width:130px;height:20px;line-height:20px;">Year Started:</div>
<div class="t c" style="left:1365px;top:691px;width:150px;height:20px;line-height:20px;">2011</div>
<div class="t r" style="left:1244px;top:712px;width:130px;height:20px;line-height:20px;">Time Tracked:</div>
<div class="t c" style="left:1365px;top:712px;width:150px;height:20px;line-height:20px;">6Y 11M 27D</div>
<div class="t r" style="left:1244px;top:733px;width:130px;height:20px;line-height:20px;">Percent of Year:</div>
<div class="t c" style="left:1365px;top:733px;width:150px;height:20px;line-height:20px;">99%</div>
<div style="left:1px;top:31px;width:1px;height:724px;background:#000;"></div>
<div style="left:637px;top:31px;width:3px;height:724px;background:#000;"></div>
<div style="left:1231px;top:31px;width:3px;height:724px;background:#000;"></div>
<div style="left:1515px;top:31px;width:2px;height:724px;background:#000;"></div>
<div style="left:1px;top:753px;width:1516px;height:3px;background:#000;"></div>
<div style="left:640px;top:312px;width:591px;height:1px;background:#b4b4b4;"></div>
<div style="left:640px;top:413px;width:591px;height:1px;background:#b4b4b4;"></div>
<svg width="1518" height="757" viewBox="0 0 1518 757">
<line x1="701.5" x2="1200.5" y1="276.68" y2="276.68" stroke="#e4e4e4" stroke-width="1"/>
<line x1="701.5" x2="1200.5" y1="267.46" y2="267.46" stroke="#e4e4e4" stroke-width="1"/>
<line x1="701.5" x2="1200.5" y1="258.24" y2="258.24" stroke="#e4e4e4" stroke-width="1"/>
<line x1="701.5" x2="1200.5" y1="249.02" y2="249.02" stroke="#e4e4e4" stroke-width="1"/>
<line x1="701.5" x2="1200.5" y1="239.80" y2="239.80" stroke="#c9c9c9" stroke-width="1"/>
<line x1="701.5" x2="1200.5" y1="230.58" y2="230.58" stroke="#e4e4e4" stroke-width="1"/>
<line x1="701.5" x2="1200.5" y1="221.36" y2="221.36" stroke="#e4e4e4" stroke-width="1"/>
<line x1="701.5" x2="1200.5" y1="212.14" y2="212.14" stroke="#e4e4e4" stroke-width="1"/>
<line x1="701.5" x2="1200.5" y1="202.92" y2="202.92" stroke="#e4e4e4" stroke-width="1"/>
<line x1="701.5" x2="1200.5" y1="193.70" y2="193.70" stroke="#c9c9c9" stroke-width="1"/>
<line x1="701.5" x2="1200.5" y1="184.48" y2="184.48" stroke="#e4e4e4" stroke-width="1"/>
<line x1="701.5" x2="1200.5" y1="175.26" y2="175.26" stroke="#e4e4e4" stroke-width="1"/>
<line x1="701.5" x2="1200.5" y1="166.04" y2="166.04" stroke="#e4e4e4" stroke-width="1"/>
<line x1="701.5" x2="1200.5" y1="156.82" y2="156.82" stroke="#e4e4e4" stroke-width="1"/>
<line x1="701.5" x2="1200.5" y1="147.60" y2="147.60" stroke="#c9c9c9" stroke-width="1"/>
<line x1="701.5" x2="1200.5" y1="138.38" y2="138.38" stroke="#e4e4e4" stroke-width="1"/>
<line x1="701.5" x2="1200.5" y1="129.16" y2="129.16" stroke="#e4e4e4" stroke-width="1"/>
<line x1="701.5" x2="1200.5" y1="119.94" y2="119.94" stroke="#e4e4e4" stroke-width="1"/>
<line x1="701.5" x2="1200.5" y1="110.72" y2="110.72" stroke="#e4e4e4" stroke-width="1"/>
<line x1="701.5" x2="1200.5" y1="101.50" y2="101.50" stroke="#c9c9c9" stroke-width="1"/>
<line x1="701.5" x2="1200.5" y1="92.28" y2="92.28" stroke="#e4e4e4" stroke-width="1"/>
<line x1="701.5" x2="1200.5" y1="83.06" y2="83.06" stroke="#e4e4e4" stroke-width="1"/>
<line x1="701.5" x2="1200.5" y1="73.84" y2="73.84" stroke="#e4e4e4" stroke-width="1"/>
<line x1="701.5" x2="1200.5" y1="64.62" y2="64.62" stroke="#e4e4e4" stroke-width="1"/>
<line x1="701.5" x2="1200.5" y1="55.40" y2="55.40" stroke="#c9c9c9" stroke-width="1"/>
<text x="696.5" y="288.70" font-size="9.5" fill="#222" text-anchor="end">0</text>
<text x="696.5" y="242.60" font-size="9.5" fill="#222" text-anchor="end">10,000</text>
<text x="696.5" y="196.50" font-size="9.5" fill="#222" text-anchor="end">20,000</text>
<text x="696.5" y="150.40" font-size="9.5" fill="#222" text-anchor="end">30,000</text>
<text x="696.5" y="104.30" font-size="9.5" fill="#222" text-anchor="end">40,000</text>
<text x="696.5" y="58.20" font-size="9.5" fill="#222" text-anchor="end">50,000</text>
<polygon points="722.29,285.9 722.29,277.52 763.88,262.20 805.46,242.18 847.04,225.67 888.62,211.36 930.21,197.22 971.79,184.80 1013.38,166.47 1054.96,150.21 1096.54,129.60 1138.12,117.41 1179.71,108.85 1179.71,285.9" fill="#3366cc" fill-opacity="0.35"/>
<path d="M709.59,285.9 L709.59,279.52 Q709.59,277.52 711.59,277.52 L732.99,277.52 Q734.99,277.52 734.99,279.52 L734.99,285.9 Z" fill="#3366cc"/>
<path d="M751.17,285.9 L751.17,272.58 Q751.17,270.58 753.17,270.58 L774.57,270.58 Q776.57,270.58 776.57,272.58 L776.57,285.9 Z" fill="#3366cc"/>
<path d="M792.76,285.9 L792.76,267.89 Q792.76,265.89 794.76,265.89 L816.16,265.89 Q818.16,265.89 818.16,267.89 L818.16,285.9 Z" fill="#3366cc"/>
<path d="M834.34,285.9 L834.34,271.39 Q834.34,269.39 836.34,269.39 L857.74,269.39 Q859.74,269.39 859.74,271.39 L859.74,285.9 Z" fill="#3366cc"/>
<path d="M875.92,285.9 L875.92,273.59 Q875.92,271.59 877.92,271.59 L899.32,271.59 Q901.32,271.59 901.32,273.59 L901.32,285.9 Z" fill="#3366cc"/>
<path d="M917.51,285.9 L917.51,273.76 Q917.51,271.76 919.51,271.76 L940.91,271.76 Q942.91,271.76 942.91,273.76 L942.91,285.9 Z" fill="#3366cc"/>
<path d="M959.09,285.9 L959.09,275.48 Q959.09,273.48 961.09,273.48 L982.49,273.48 Q984.49,273.48 984.49,275.48 L984.49,285.9 Z" fill="#3366cc"/>
<path d="M1000.67,285.9 L1000.67,269.57 Q1000.67,267.57 1002.67,267.57 L1024.08,267.57 Q1026.08,267.57 1026.08,269.57 L1026.08,285.9 Z" fill="#3366cc"/>
<path d="M1042.26,285.9 L1042.26,271.64 Q1042.26,269.64 1044.26,269.64 L1065.66,269.64 Q1067.66,269.64 1067.66,271.64 L1067.66,285.9 Z" fill="#3366cc"/>
<path d="M1083.84,285.9 L1083.84,267.29 Q1083.84,265.29 1085.84,265.29 L1107.24,265.29 Q1109.24,265.29 1109.24,267.29 L1109.24,285.9 Z" fill="#3366cc"/>
<path d="M1125.42,285.9 L1125.42,275.71 Q1125.42,273.71 1127.42,273.71 L1148.83,273.71 Q1150.83,273.71 1150.83,275.71 L1150.83,285.9 Z" fill="#3366cc"/>
<path d="M1167.01,285.9 L1167.01,279.34 Q1167.01,277.34 1169.01,277.34 L1190.41,277.34 Q1192.41,277.34 1192.41,279.34 L1192.41,285.9 Z" fill="#3366cc"/>
<line x1="701.5" x2="1200.5" y1="286.29999999999995" y2="286.29999999999995" stroke="#333" stroke-width="1"/>
<line x1="722.29" x2="1200.5" y1="276.2" y2="276.2" stroke="#f6d877" stroke-width="2"/>
<line x1="722.29" x2="1179.71" y1="275.53" y2="161.43" stroke="#efdc9c" stroke-width="1.3"/>
<line x1="701.5" x2="1200.5" y1="161.43" y2="161.43" stroke="#fdd868" stroke-width="5"/>
<polyline points="722.29,277.52 763.88,262.20 805.46,242.18 847.04,225.67 888.62,211.36 930.21,197.22 971.79,184.80 1013.38,166.47 1054.96,150.21 1096.54,129.60 1138.12,117.41 1179.71,108.85" fill="none" stroke="#3366cc" stroke-width="2.5" stroke-linejoin="round"/>
<circle cx="722.29" cy="277.52" r="4.5" fill="#2a5cc9"/>
<circle cx="763.88" cy="262.20" r="4.5" fill="#2a5cc9"/>
<circle cx="805.46" cy="242.18" r="4.5" fill="#2a5cc9"/>
<circle cx="847.04" cy="225.67" r="4.5" fill="#2a5cc9"/>
<circle cx="888.62" cy="211.36" r="4.5" fill="#2a5cc9"/>
<circle cx="930.21" cy="197.22" r="4.5" fill="#2a5cc9"/>
<circle cx="971.79" cy="184.80" r="4.5" fill="#2a5cc9"/>
<circle cx="1013.38" cy="166.47" r="4.5" fill="#2a5cc9"/>
<circle cx="1054.96" cy="150.21" r="4.5" fill="#2a5cc9"/>
<circle cx="1096.54" cy="129.60" r="4.5" fill="#2a5cc9"/>
<circle cx="1138.12" cy="117.41" r="4.5" fill="#2a5cc9"/>
<circle cx="1179.71" cy="108.85" r="4.5" fill="#2a5cc9"/>
<polyline points="722.29,187.22 763.88,139.25 805.46,108.60 847.04,102.72 888.62,105.72 930.21,107.07 971.79,111.84 1013.38,106.51 1054.96,104.48 1096.54,98.24 1138.12,101.77 1179.71,108.85" fill="none" stroke="#1f418c" stroke-width="1.8" stroke-linejoin="round"/>
<circle cx="722.29" cy="187.22" r="2.1" fill="#1f418c"/>
<circle cx="763.88" cy="139.25" r="2.1" fill="#1f418c"/>
<circle cx="805.46" cy="108.60" r="2.1" fill="#1f418c"/>
<circle cx="847.04" cy="102.72" r="2.1" fill="#1f418c"/>
<circle cx="888.62" cy="105.72" r="2.1" fill="#1f418c"/>
<circle cx="930.21" cy="107.07" r="2.1" fill="#1f418c"/>
<circle cx="971.79" cy="111.84" r="2.1" fill="#1f418c"/>
<circle cx="1013.38" cy="106.51" r="2.1" fill="#1f418c"/>
<circle cx="1054.96" cy="104.48" r="2.1" fill="#1f418c"/>
<circle cx="1096.54" cy="98.24" r="2.1" fill="#1f418c"/>
<circle cx="1138.12" cy="101.77" r="2.1" fill="#1f418c"/>
<circle cx="1179.71" cy="108.85" r="2.1" fill="#1f418c"/>
<text x="1196" y="90.8" font-size="10.7" fill="#3366cc" text-anchor="end">38,405</text>
<text x="705.7" y="143.6" font-size="10.9" fill="#c9a53a">27,000</text>
<text x="722.29" y="299.1" font-size="9.5" fill="#222" text-anchor="middle">Jan</text>
<text x="763.88" y="299.1" font-size="9.5" fill="#222" text-anchor="middle">Feb</text>
<text x="805.46" y="299.1" font-size="9.5" fill="#222" text-anchor="middle">Mar</text>
<text x="847.04" y="299.1" font-size="9.5" fill="#222" text-anchor="middle">April</text>
<text x="888.62" y="299.1" font-size="9.5" fill="#222" text-anchor="middle">May</text>
<text x="930.21" y="299.1" font-size="9.5" fill="#222" text-anchor="middle">June</text>
<text x="971.79" y="299.1" font-size="9.5" fill="#222" text-anchor="middle">July</text>
<text x="1013.38" y="299.1" font-size="9.5" fill="#222" text-anchor="middle">Aug</text>
<text x="1054.96" y="299.1" font-size="9.5" fill="#222" text-anchor="middle">Sep</text>
<text x="1096.54" y="299.1" font-size="9.5" fill="#222" text-anchor="middle">Oct</text>
<text x="1138.12" y="299.1" font-size="9.5" fill="#222" text-anchor="middle">Nov</text>
<text x="1179.71" y="299.1" font-size="9.5" fill="#222" text-anchor="middle">Dec</text>
<rect x="641" y="332.3" width="397" height="24.3" fill="#434343"/>
<text x="656.5" y="348.6" font-size="16" font-weight="bold" fill="#000" stroke="#fff" stroke-width="3" stroke-linejoin="round" paint-order="stroke" letter-spacing="-0.3">2017 Goal: Read 27,000 pages</text>
<rect x="884" y="335" width="2.1" height="16" fill="#000" stroke="#fff" stroke-width="3" stroke-linejoin="round" paint-order="stroke"/>
<text x="894.5" y="348.6" font-size="16" font-weight="bold" fill="#000" stroke="#fff" stroke-width="3" stroke-linejoin="round" paint-order="stroke" letter-spacing="-0.15">Completed on 9/7/2017</text>
<text x="1065.5" y="347.3" font-size="11.5" fill="#555">27,000</text>
<rect x="641.00" y="370.4" width="27.30" height="24.3" fill="#3366cc"/>
<rect x="668.00" y="370.4" width="48.90" height="24.3" fill="#c63b2b"/>
<rect x="716.60" y="370.4" width="63.60" height="24.3" fill="#ff9900"/>
<rect x="779.90" y="370.4" width="53.40" height="24.3" fill="#109618"/>
<rect x="833.00" y="370.4" width="46.30" height="24.3" fill="#990099"/>
<rect x="879.00" y="370.4" width="45.30" height="24.3" fill="#0099c6"/>
<rect x="924.00" y="370.4" width="38.80" height="24.3" fill="#dd4477"/>
<rect x="962.50" y="370.4" width="60.00" height="24.3" fill="#66aa00"/>
<rect x="1022.20" y="370.4" width="52.10" height="24.3" fill="#c63b2b"/>
<rect x="1074.00" y="370.4" width="64.70" height="24.3" fill="#316395"/>
<rect x="1138.40" y="370.4" width="40.00" height="24.3" fill="#994499"/>
<rect x="1178.10" y="370.4" width="26.50" height="24.3" fill="#22aa99"/>
<text x="656.5" y="386.8" font-size="16" font-weight="bold" fill="#000" stroke="#fff" stroke-width="3" stroke-linejoin="round" paint-order="stroke" letter-spacing="-0.32">Total: 120 books</text>
<rect x="783.2" y="373.2" width="2.1" height="16" fill="#000" stroke="#fff" stroke-width="3" stroke-linejoin="round" paint-order="stroke"/>
<text x="793.3" y="386.8" font-size="16" font-weight="bold" fill="#000" stroke="#fff" stroke-width="3" stroke-linejoin="round" paint-order="stroke" letter-spacing="-0.18">38,405 pages</text>
<line x1="703.0" x2="1207.5" y1="706.82" y2="706.82" stroke="#e4e4e4" stroke-width="1"/>
<line x1="703.0" x2="1207.5" y1="692.44" y2="692.44" stroke="#e4e4e4" stroke-width="1"/>
<line x1="703.0" x2="1207.5" y1="678.06" y2="678.06" stroke="#e4e4e4" stroke-width="1"/>
<line x1="703.0" x2="1207.5" y1="663.68" y2="663.68" stroke="#e4e4e4" stroke-width="1"/>
<line x1="703.0" x2="1207.5" y1="649.30" y2="649.30" stroke="#c9c9c9" stroke-width="1"/>
<line x1="703.0" x2="1207.5" y1="634.92" y2="634.92" stroke="#e4e4e4" stroke-width="1"/>
<line x1="703.0" x2="1207.5" y1="620.54" y2="620.54" stroke="#e4e4e4" stroke-width="1"/>
<line x1="703.0" x2="1207.5" y1="606.16" y2="606.16" stroke="#e4e4e4" stroke-width="1"/>
<line x1="703.0" x2="1207.5" y1="591.78" y2="591.78" stroke="#e4e4e4" stroke-width="1"/>
<line x1="703.0" x2="1207.5" y1="577.40" y2="577.40" stroke="#c9c9c9" stroke-width="1"/>
<line x1="703.0" x2="1207.5" y1="563.02" y2="563.02" stroke="#e4e4e4" stroke-width="1"/>
<line x1="703.0" x2="1207.5" y1="548.64" y2="548.64" stroke="#e4e4e4" stroke-width="1"/>
<line x1="703.0" x2="1207.5" y1="534.26" y2="534.26" stroke="#e4e4e4" stroke-width="1"/>
<line x1="703.0" x2="1207.5" y1="519.88" y2="519.88" stroke="#e4e4e4" stroke-width="1"/>
<line x1="703.0" x2="1207.5" y1="505.50" y2="505.50" stroke="#c9c9c9" stroke-width="1"/>
<line x1="703.0" x2="1207.5" y1="491.12" y2="491.12" stroke="#e4e4e4" stroke-width="1"/>
<line x1="703.0" x2="1207.5" y1="476.74" y2="476.74" stroke="#e4e4e4" stroke-width="1"/>
<line x1="703.0" x2="1207.5" y1="462.36" y2="462.36" stroke="#e4e4e4" stroke-width="1"/>
<line x1="703.0" x2="1207.5" y1="447.98" y2="447.98" stroke="#e4e4e4" stroke-width="1"/>
<line x1="703.0" x2="1207.5" y1="433.60" y2="433.60" stroke="#c9c9c9" stroke-width="1"/>
<text x="697.5" y="724.60" font-size="9.5" fill="#222" text-anchor="end">0</text>
<text x="697.5" y="652.70" font-size="9.5" fill="#222" text-anchor="end">10,000</text>
<text x="697.5" y="580.80" font-size="9.5" fill="#222" text-anchor="end">20,000</text>
<text x="697.5" y="508.90" font-size="9.5" fill="#222" text-anchor="end">30,000</text>
<text x="697.5" y="437.00" font-size="9.5" fill="#222" text-anchor="end">40,000</text>
<path d="M703.0,721.2 L703.00,577.40 L766.06,577.40 L766.06,577.40 L829.12,577.40 L829.12,559.43 L892.19,559.43 L892.19,548.64 L955.25,548.64 L955.25,548.64 L1018.31,548.64 L1018.31,548.64 L1081.38,548.64 L1081.38,527.07 L1144.44,527.07 L1144.44,505.50 L1207.50,505.50 L1207.5,721.2 Z" fill="#ffd966" fill-opacity="0.5"/>
<rect x="715.13" y="558.96" width="38.8" height="162.24" fill="#3366cc"/>
<rect x="778.19" y="546.86" width="38.8" height="174.34" fill="#3366cc"/>
<rect x="841.26" y="504.36" width="38.8" height="216.84" fill="#3366cc"/>
<rect x="904.32" y="522.75" width="38.8" height="198.45" fill="#3366cc"/>
<rect x="967.38" y="515.82" width="38.8" height="205.38" fill="#3366cc"/>
<rect x="1030.44" y="501.99" width="38.8" height="219.21" fill="#3366cc"/>
<rect x="1093.51" y="445.07" width="38.8" height="276.13" fill="#3366cc"/>
<rect x="1093.51" y="442.27" width="38.8" height="3" fill="#5b86da"/>
<path d="M703.00,577.40 L766.06,577.40 L766.06,577.40 L829.12,577.40 L829.12,559.43 L892.19,559.43 L892.19,548.64 L955.25,548.64 L955.25,548.64 L1018.31,548.64 L1018.31,548.64 L1081.38,548.64 L1081.38,527.07 L1144.44,527.07 L1144.44,505.50 L1207.50,505.50" fill="none" stroke="#fdd764" stroke-width="3.8" stroke-linejoin="round" stroke-linecap="butt"/>
<line x1="703.0" x2="1207.5" y1="721.5" y2="721.5" stroke="#333" stroke-width="1.2"/>
<text x="734.53" y="569.56" font-size="10.6" fill="#fff" text-anchor="middle">22,564</text>
<text x="797.59" y="557.46" font-size="10.6" fill="#fff" text-anchor="middle">24,248</text>
<text x="860.66" y="514.96" font-size="10.6" fill="#fff" text-anchor="middle">30,158</text>
<text x="923.72" y="533.35" font-size="10.6" fill="#fff" text-anchor="middle">27,601</text>
<text x="986.78" y="526.42" font-size="10.6" fill="#fff" text-anchor="middle">28,565</text>
<text x="1049.84" y="512.59" font-size="10.6" fill="#fff" text-anchor="middle">30,488</text>
<text x="1112.91" y="454.67" font-size="10.6" fill="#fff" text-anchor="middle">38,405</text>
<text x="1176.27" y="708.2" font-size="10.6" fill="#3366cc" stroke="#fff" stroke-width="2.5" stroke-linejoin="round" paint-order="stroke" text-anchor="middle">0</text>
<text x="734.53" y="734.6" font-size="9.5" fill="#222" text-anchor="middle">2011</text>
<text x="797.59" y="734.6" font-size="9.5" fill="#222" text-anchor="middle">2012</text>
<text x="860.66" y="734.6" font-size="9.5" fill="#222" text-anchor="middle">2013</text>
<text x="923.72" y="734.6" font-size="9.5" fill="#222" text-anchor="middle">2014</text>
<text x="986.78" y="734.6" font-size="9.5" fill="#222" text-anchor="middle">2015</text>
<text x="1049.84" y="734.6" font-size="9.5" fill="#222" text-anchor="middle">2016</text>
<text x="1112.91" y="734.6" font-size="9.5" fill="#222" text-anchor="middle">2017</text>
<text x="1175.97" y="734.6" font-size="9.5" fill="#222" text-anchor="middle">2018</text>
</svg>
</div></body></html>
